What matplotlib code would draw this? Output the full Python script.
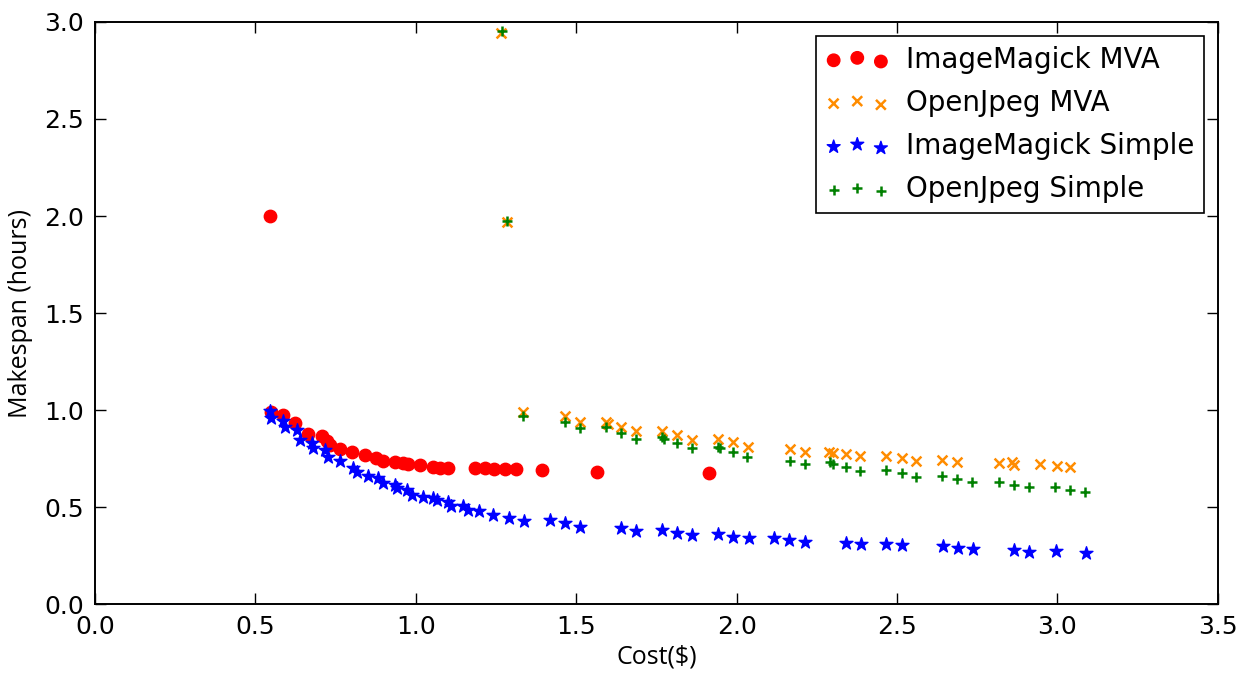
import matplotlib
matplotlib.use("Agg")
import matplotlib.pyplot as plt

# ImageMagick MVA
im_mva_cost = [0.545, 0.55, 0.585, 0.623, 0.665, 0.706, 0.722, 0.733, 0.763, 0.80,
               0.84, 0.876, 0.899, 0.935, 0.96, 0.975, 1.013, 1.054, 1.076, 1.10,
               1.184, 1.215, 1.243, 1.278, 1.311, 1.392, 1.566, 1.913]
im_mva_span = [2.0, 0.99, 0.975, 0.935, 0.875, 0.865, 0.84, 0.82, 0.80, 0.785,
               0.766, 0.755, 0.737, 0.73, 0.727, 0.724, 0.717, 0.707, 0.703, 0.701,
               0.701, 0.702, 0.697, 0.697, 0.696, 0.690, 0.682, 0.675]

# OpenJpeg MVA
oj_mva_cost = [1.265, 1.285, 1.335, 1.465, 1.511, 1.592, 1.60, 1.641, 1.686, 1.768,
               1.815, 1.861, 1.942, 1.989, 2.036, 2.166, 2.213, 2.288, 2.299, 2.34,
               2.386, 2.467, 2.514, 2.56, 2.641, 2.688, 2.817, 2.857, 2.864, 2.945,
               2.999, 3.038]
oj_mva_span = [2.945, 1.97, 0.99, 0.967, 0.936, 0.938, 0.929, 0.912, 0.89, 0.89,
               0.872, 0.847, 0.852, 0.833, 0.812, 0.799, 0.783, 0.786, 0.778, 0.773,
               0.761, 0.764, 0.752, 0.74, 0.743, 0.731, 0.726, 0.731, 0.718, 0.721,
               0.712, 0.709]

# ImageMagick Simple
im_simple_cost = [0.545, 0.55, 0.587, 0.592, 0.628, 0.639, 0.675, 0.68, 0.717, 0.727,
                  0.763, 0.805, 0.815, 0.852, 0.883, 0.899, 0.935, 0.94, 0.971, 0.987,
                  1.023, 1.054, 1.065, 1.10, 1.111, 1.148, 1.163, 1.197, 1.241, 1.29,
                  1.338, 1.418, 1.465, 1.511, 1.639, 1.686, 1.767, 1.815, 1.862, 1.943,
                  1.989, 2.038, 2.117, 2.164, 2.213, 2.34, 2.387, 2.467, 2.514, 2.644,
                  2.69, 2.737, 2.865, 2.912, 2.994, 3.088]
im_simple_span = [0.993, 0.96, 0.946, 0.915, 0.898, 0.847, 0.83, 0.804, 0.795, 0.76,
                  0.735, 0.70, 0.683, 0.661, 0.649, 0.623, 0.614, 0.597, 0.589, 0.563,
                  0.554, 0.546, 0.537, 0.528, 0.507, 0.506, 0.485, 0.482, 0.459, 0.446,
                  0.427, 0.434, 0.417, 0.399, 0.391, 0.377, 0.382, 0.368, 0.356, 0.361,
                  0.348, 0.339, 0.342, 0.33, 0.322, 0.317, 0.308, 0.311, 0.303, 0.298,
                  0.291, 0.282, 0.277, 0.27, 0.272, 0.262]

# OpenJpeg Simple
oj_simple_cost = [1.27, 1.285, 1.335, 1.465, 1.511, 1.592, 1.638, 1.685, 1.768, 1.773,
                  1.815, 1.861, 1.942, 1.948, 1.989, 2.033, 2.166, 2.213, 2.29, 2.30,
                  2.34, 2.386, 2.467, 2.514, 2.56, 2.641, 2.688, 2.735, 2.817, 2.864,
                  2.911, 2.992, 3.038, 3.085]
oj_simple_span = [2.955, 1.975, 0.967, 0.938, 0.907, 0.912, 0.881, 0.852, 0.86, 0.85,
                  0.83, 0.804, 0.812, 0.804, 0.783, 0.76, 0.74, 0.721, 0.73, 0.721,
                  0.706, 0.688, 0.692, 0.675, 0.657, 0.661, 0.644, 0.628, 0.631, 0.614,
                  0.602, 0.602, 0.589, 0.58]

fig = plt.figure(figsize=(12.44, 6.78), dpi=100)
ax = fig.add_axes([0.0764, 0.109, 0.9026, 0.8586])

ax.scatter(im_mva_cost, im_mva_span, marker="o", s=80, c="red", edgecolors="red",
           label="ImageMagick MVA", zorder=2)
ax.scatter(oj_mva_cost, oj_mva_span, marker="x", s=50, c="darkorange", linewidths=1.8,
           label="OpenJpeg MVA", zorder=2)
ax.scatter(im_simple_cost, im_simple_span, marker="*", s=95, c="blue", edgecolors="blue",
           label="ImageMagick Simple", zorder=3)
ax.scatter(oj_simple_cost, oj_simple_span, marker="+", s=50, c="green", linewidths=1.8,
           label="OpenJpeg Simple", zorder=3)

ax.set_xlim(0, 3.5)
ax.set_ylim(0, 3.0)
ax.set_xticks([0.0, 0.5, 1.0, 1.5, 2.0, 2.5, 3.0, 3.5])
ax.set_yticks([0.0, 0.5, 1.0, 1.5, 2.0, 2.5, 3.0])
ax.tick_params(direction="in", length=8, width=1, labelsize=18, pad=8,
               top=True, right=True)
for sp in ax.spines.values():
    sp.set_linewidth(1.4)

ax.set_xlabel("Cost($)", family="Open Sans", fontsize=18, labelpad=4)
ax.set_ylabel("Makespan (hours)", family="Open Sans", fontsize=18, labelpad=8)

leg = ax.legend(loc="upper right", scatterpoints=3, scatteryoffsets=[0.375, 0.5, 0.3125],
                prop={"size": 20}, fancybox=False, framealpha=1, edgecolor="black",
                borderpad=0.35, labelspacing=0.55, handlelength=2.3,
                handletextpad=0.6, borderaxespad=0.5)
leg.get_frame().set_linewidth(1.2)

fig.savefig("out.png", dpi=100)
